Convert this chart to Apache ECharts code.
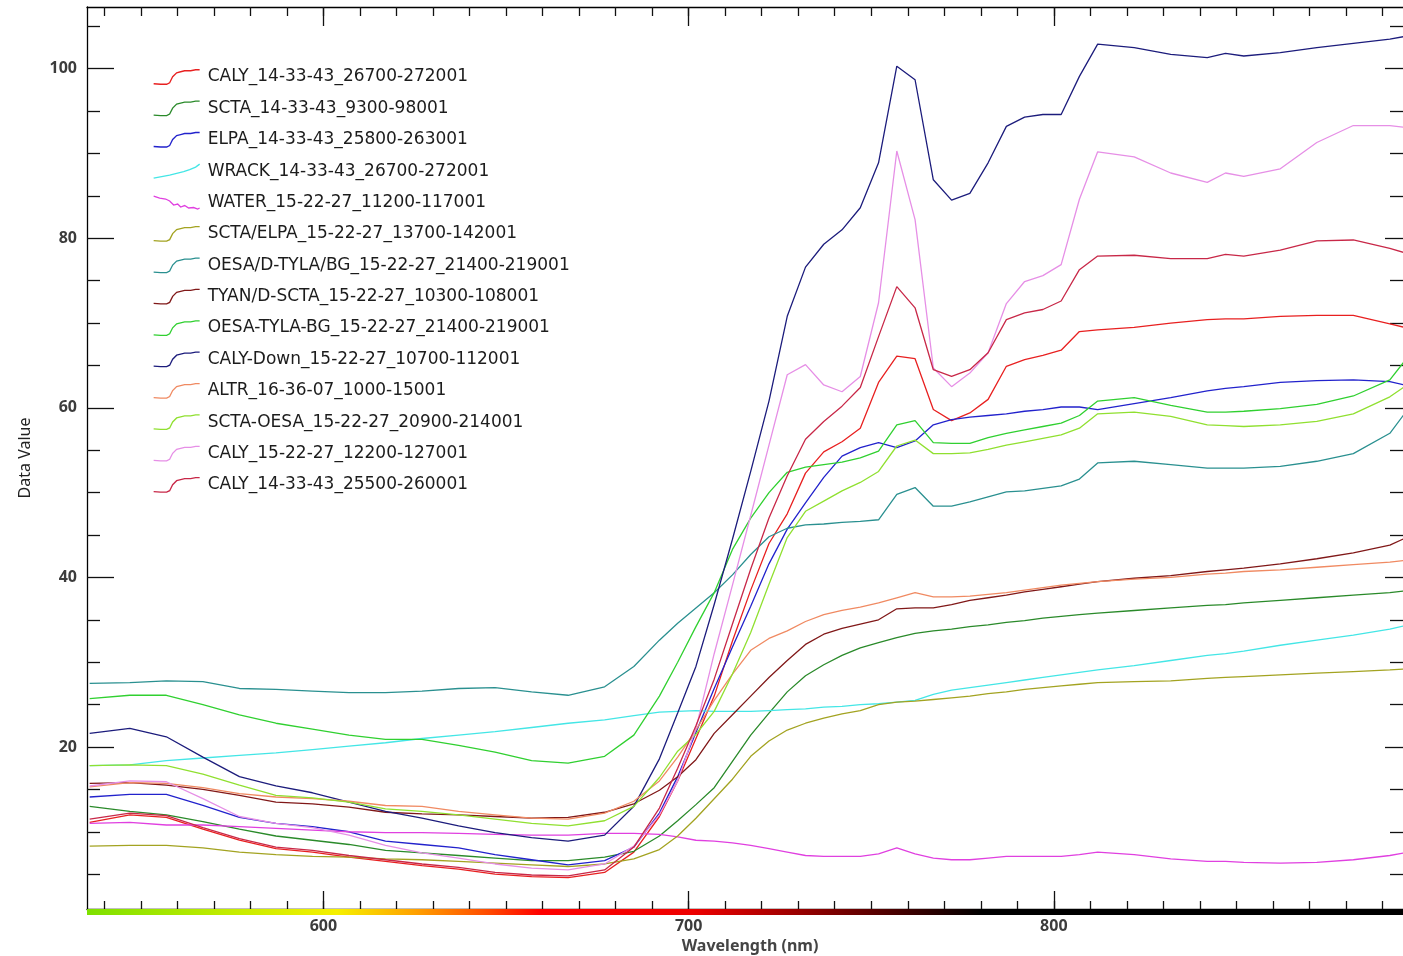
<!DOCTYPE html>
<html lang="en">
<head>
    <meta charset="UTF-8">
    <title>Spectral profiles</title>
    <script src="https://cdn.jsdelivr.net/npm/echarts@6/dist/echarts.min.js"></script>
    <style>
        html, body { margin: 0; padding: 0; background: #fff; }
        #spectra { width: 1403px; height: 956px; }
    </style>
</head>
<body>
<div id="spectra"></div>
<script type="text/javascript">
    // wavelengths (nm) shared by every profile
    var wavelengths = [536, 547, 557, 567, 577, 587, 597, 607, 617, 627, 637, 647, 657, 667, 677, 685, 692, 697, 702, 707,
        712, 717, 722, 727, 732, 737, 742, 747, 752, 757, 762, 767, 772, 777, 782, 787, 792, 797, 802, 807,
        812, 822, 832, 842, 847, 852, 862, 872, 882, 892, 896];

    var seriesNames = [
        'CALY_14-33-43_26700-272001',
        'SCTA_14-33-43_9300-98001',
        'ELPA_14-33-43_25800-263001',
        'WRACK_14-33-43_26700-272001',
        'WATER_15-22-27_11200-117001',
        'SCTA/ELPA_15-22-27_13700-142001',
        'OESA/D-TYLA/BG_15-22-27_21400-219001',
        'TYAN/D-SCTA_15-22-27_10300-108001',
        'OESA-TYLA-BG_15-22-27_21400-219001',
        'CALY-Down_15-22-27_10700-112001',
        'ALTR_16-36-07_1000-15001',
        'SCTA-OESA_15-22-27_20900-214001',
        'CALY_15-22-27_12200-127001',
        'CALY_14-33-43_25500-260001'
    ];
    var seriesColors = ['#e82020', '#2a8a2a', '#2222cc', '#44e6e6', '#e040e0', '#a3a321', '#2a9090',
        '#801818', '#30d030', '#1c1c7c', '#f08a62', '#90e030', '#e68fe6', '#c82848'];

    var calyA = [11.1, 12.0, 11.7, 10.3, 9.0, 8.0, 7.6, 7.0, 6.5, 6.0, 5.6, 5.0, 4.7, 4.6, 5.2, 7.6, 11.8, 16.0, 21.0, 26.0,
        32.5, 38.5, 44.0, 47.5, 52.3, 54.8, 56.0, 57.6, 63.0, 66.1, 65.8, 59.8, 58.5, 59.4, 61.0, 64.9, 65.7, 66.2, 66.8, 69.0,
        69.2, 69.5, 70.0, 70.4, 70.5, 70.5, 70.8, 70.9, 70.9, 69.9, 69.5];
    var scta = [13.0, 12.4, 12.0, 11.2, 10.3, 9.5, 9.0, 8.5, 7.8, 7.5, 7.2, 6.9, 6.6, 6.6, 7.0, 7.7, 9.5, 11.3, 13.2, 15.2,
        18.3, 21.4, 24.0, 26.5, 28.4, 29.7, 30.8, 31.7, 32.3, 32.9, 33.4, 33.7, 33.9, 34.2, 34.4, 34.7, 34.9, 35.2, 35.4, 35.6,
        35.8, 36.1, 36.4, 36.7, 36.8, 37.0, 37.3, 37.6, 37.9, 38.2, 38.4];
    var elpa = [14.1, 14.4, 14.4, 13.1, 11.7, 11.0, 10.6, 10.0, 8.9, 8.5, 8.1, 7.3, 6.7, 6.1, 6.6, 8.2, 12.2, 16.5, 21.7, 26.9,
        31.8, 36.6, 41.6, 45.7, 48.8, 51.8, 54.3, 55.3, 55.9, 55.3, 56.1, 58.0, 58.6, 58.9, 59.1, 59.3, 59.6, 59.8, 60.1, 60.1,
        59.8, 60.5, 61.2, 62.0, 62.3, 62.5, 63.0, 63.2, 63.3, 63.1, 62.7];
    var wrack = [17.8, 17.9, 18.4, 18.7, 19.0, 19.3, 19.7, 20.1, 20.5, 21.0, 21.4, 21.8, 22.3, 22.8, 23.2, 23.7, 24.1, 24.2, 24.3, 24.2,
        24.2, 24.2, 24.3, 24.4, 24.5, 24.7, 24.8, 25.0, 25.1, 25.3, 25.5, 26.2, 26.7, 27.0, 27.3, 27.6, 27.9, 28.2, 28.5, 28.8,
        29.1, 29.6, 30.2, 30.8, 31.0, 31.3, 32.0, 32.6, 33.2, 33.9, 34.3];
    var water = [11.0, 11.1, 10.8, 10.8, 10.6, 10.4, 10.2, 10.0, 9.9, 9.9, 9.8, 9.7, 9.6, 9.6, 9.8, 9.8, 9.7, 9.4, 9.0, 8.9,
        8.7, 8.4, 8.0, 7.6, 7.2, 7.1, 7.1, 7.1, 7.4, 8.1, 7.4, 6.9, 6.7, 6.7, 6.9, 7.1, 7.1, 7.1, 7.1, 7.3,
        7.6, 7.3, 6.8, 6.5, 6.5, 6.4, 6.3, 6.4, 6.7, 7.2, 7.5];
    var sctaElpa = [8.3, 8.4, 8.4, 8.1, 7.6, 7.3, 7.1, 7.0, 6.8, 6.7, 6.5, 6.3, 6.1, 5.9, 6.2, 6.8, 7.9, 9.5, 11.6, 13.9,
        16.2, 18.9, 20.7, 22.0, 22.8, 23.4, 23.9, 24.3, 25.0, 25.3, 25.4, 25.6, 25.8, 26.0, 26.3, 26.5, 26.8, 27.0, 27.2, 27.4,
        27.6, 27.7, 27.8, 28.1, 28.2, 28.3, 28.5, 28.7, 28.9, 29.1, 29.2];
    var oesaDTyla = [27.5, 27.6, 27.8, 27.7, 26.9, 26.8, 26.6, 26.4, 26.4, 26.6, 26.9, 27.0, 26.5, 26.1, 27.1, 29.5, 32.6, 34.6, 36.4, 38.2,
        40.3, 42.7, 44.8, 45.8, 46.2, 46.3, 46.5, 46.6, 46.8, 49.8, 50.6, 48.4, 48.4, 48.9, 49.5, 50.1, 50.2, 50.5, 50.8, 51.6,
        53.5, 53.7, 53.3, 52.9, 52.9, 52.9, 53.1, 53.7, 54.6, 57.0, 59.3];
    var tyan = [15.7, 15.8, 15.5, 15.0, 14.3, 13.5, 13.3, 12.9, 12.3, 12.1, 12.0, 11.8, 11.6, 11.7, 12.3, 13.3, 14.9, 16.5, 18.5, 21.6,
        23.8, 26.0, 28.2, 30.2, 32.1, 33.3, 34.0, 34.5, 35.0, 36.3, 36.4, 36.4, 36.8, 37.3, 37.6, 37.9, 38.3, 38.6, 38.9, 39.2,
        39.5, 39.9, 40.2, 40.7, 40.9, 41.1, 41.6, 42.2, 42.9, 43.8, 44.6];
    var oesaTyla = [25.7, 26.1, 26.1, 25.0, 23.8, 22.8, 22.1, 21.4, 20.9, 20.9, 20.2, 19.4, 18.4, 18.1, 18.9, 21.4, 26.0, 30.0, 34.2, 38.2,
        43.3, 47.0, 50.0, 52.4, 53.0, 53.3, 53.6, 54.1, 54.9, 58.0, 58.5, 55.9, 55.8, 55.8, 56.5, 57.0, 57.4, 57.8, 58.2, 59.1,
        60.8, 61.2, 60.3, 59.5, 59.5, 59.6, 59.9, 60.4, 61.4, 63.3, 65.5];
    var calyDown = [21.6, 22.2, 21.2, 18.8, 16.5, 15.4, 14.6, 13.5, 12.4, 11.6, 10.7, 9.9, 9.3, 8.9, 9.6, 13.0, 18.6, 24.0, 29.5, 36.8,
        44.5, 52.5, 60.8, 70.8, 76.6, 79.3, 81.0, 83.6, 88.9, 100.3, 98.7, 86.9, 84.5, 85.3, 88.9, 93.2, 94.3, 94.6, 94.6, 99.1,
        102.9, 102.5, 101.7, 101.3, 101.8, 101.5, 101.9, 102.5, 103.0, 103.5, 103.8];
    var altr = [15.3, 15.8, 15.7, 15.2, 14.5, 14.1, 13.9, 13.6, 13.1, 13.0, 12.4, 12.0, 11.6, 11.5, 12.2, 13.6, 16.0, 18.8, 22.0, 25.5,
        28.6, 31.4, 32.8, 33.7, 34.8, 35.6, 36.1, 36.5, 37.0, 37.6, 38.2, 37.7, 37.7, 37.8, 38.0, 38.2, 38.5, 38.8, 39.1, 39.3,
        39.5, 39.8, 40.0, 40.4, 40.5, 40.7, 40.9, 41.2, 41.5, 41.8, 42.0];
    var sctaOesa = [17.8, 17.9, 17.8, 16.8, 15.5, 14.3, 14.0, 13.5, 12.7, 12.4, 12.0, 11.5, 11.0, 10.7, 11.3, 13.0, 16.4, 19.5, 21.5, 24.2,
        28.6, 33.5, 39.2, 44.7, 47.8, 49.0, 50.2, 51.2, 52.5, 55.5, 56.2, 54.6, 54.6, 54.7, 55.1, 55.6, 56.0, 56.4, 56.8, 57.6,
        59.3, 59.5, 59.0, 58.0, 57.9, 57.8, 58.0, 58.4, 59.3, 61.3, 62.5];
    var calyB = [15.4, 16.0, 15.9, 13.9, 11.8, 11.0, 10.5, 9.6, 8.4, 7.5, 6.9, 6.2, 5.7, 5.5, 6.2, 8.3, 12.0, 16.0, 22.2, 31.0,
        39.1, 47.3, 55.6, 63.9, 65.1, 62.7, 61.9, 63.7, 72.4, 90.3, 82.2, 64.7, 62.5, 64.1, 66.5, 72.3, 74.9, 75.6, 76.9, 84.6,
        90.2, 89.6, 87.7, 86.6, 87.7, 87.3, 88.2, 91.3, 93.3, 93.3, 93.1];
    var calyC = [11.5, 12.2, 11.9, 10.5, 9.2, 8.2, 7.8, 7.2, 6.7, 6.2, 5.8, 5.2, 4.9, 4.8, 5.5, 8.2, 12.8, 17.5, 22.5, 28.0,
        34.5, 41.0, 47.0, 52.0, 56.3, 58.4, 60.2, 62.4, 68.4, 74.3, 71.8, 64.5, 63.7, 64.5, 66.5, 70.4, 71.2, 71.6, 72.6, 76.3,
        77.9, 78.0, 77.6, 77.6, 78.1, 77.9, 78.6, 79.7, 79.8, 78.8, 78.3];

    var profiles = [calyA, scta, elpa, wrack, water, sctaElpa, oesaDTyla, tyan, oesaTyla, calyDown, altr, sctaOesa, calyB, calyC];

    // axis ticks
    var xMajorTicks = [600, 700, 800];
    var xMinorTicks = [];
    for (var t = 540; t <= 890; t += 10) xMinorTicks.push(t);
    var yMajorTicks = [20, 40, 60, 80, 100];
    var yMinorTicks = [5, 10, 15, 25, 30, 35, 45, 50, 55, 65, 70, 75, 85, 90, 95, 105];

    // little spectrum sketches used as legend symbols
    var iconRise = 'path://M0,17 L7,17.5 L13,17.5 L16,16 L19,10 L23,6 L27,5 L31,4 L37,4 L42,3 L46,3';
    var iconLine = 'path://M0,17 L8,15.5 L16,14 L24,12 L30,10.5 L36,8.5 L42,6 L46,3';
    var iconWater = 'path://M0,3 L6,5 L12,6 L16,8 L20,12 L24,11 L27,14 L31,12.5 L35,15 L40,14.5 L44,16 L46,15';

    var chart = echarts.init(document.getElementById('spectra'));
    var font = 'Noto Sans';

    var series = [];
    var legendData = [];
    for (var i = 0; i < seriesNames.length; i++) {
        var pts = [];
        for (var j = 0; j < wavelengths.length; j++) pts.push([wavelengths[j], profiles[i][j]]);
        series.push({
            name: seriesNames[i],
            type: 'line',
            data: pts,
            symbol: 'none',
            color: seriesColors[i],
            lineStyle: { width: 1.3, color: seriesColors[i] },
            xAxisIndex: 0,
            yAxisIndex: 0
        });
        var ic = iconRise;
        if (i === 3) ic = iconLine;
        if (i === 4) ic = iconWater;
        legendData.push({
            name: seriesNames[i],
            icon: ic,
            itemStyle: { color: 'transparent', borderColor: seriesColors[i], borderWidth: 1.3 }
        });
    }

    function xAxisDef(pos, ticks, len, labels, showLine) {
        return {
            type: 'value', position: pos, min: 535.27, max: 895.6,
            axisLine: { show: showLine, lineStyle: { color: '#000', width: 1.3 } },
            axisTick: { show: true, inside: true, length: len, customValues: ticks, lineStyle: { color: '#111', width: 1.3 } },
            axisLabel: labels ? {
                show: true, customValues: labels, margin: 9, fontSize: 16, fontWeight: 'bold',
                color: '#3c3c3c', fontFamily: font
            } : { show: false },
            splitLine: { show: false }
        };
    }
    function yAxisDef(pos, ticks, len, labels, showLine) {
        return {
            type: 'value', position: pos, min: 0.89, max: 107.28,
            axisLine: { show: showLine, lineStyle: { color: '#000', width: 1.3 } },
            axisTick: { show: true, inside: true, length: len, customValues: ticks, lineStyle: { color: '#111', width: 1.3 } },
            axisLabel: labels ? {
                show: true, customValues: labels, margin: 10, fontSize: 16, fontWeight: 'bold',
                color: '#3c3c3c', fontFamily: font
            } : { show: false },
            splitLine: { show: false }
        };
    }

    var xBottom = xAxisDef('bottom', xMinorTicks, 8, xMajorTicks, true);
    xBottom.name = 'Wavelength (nm)';
    xBottom.nameLocation = 'middle';
    xBottom.nameGap = 27;
    xBottom.nameTextStyle = { fontSize: 16, fontWeight: 'bold', color: '#444', fontFamily: font, padding: [0, 0, 0, 10] };

    var yLeft = yAxisDef('left', yMinorTicks, 13, yMajorTicks, true);
    yLeft.name = 'Data Value';
    yLeft.nameLocation = 'middle';
    yLeft.nameGap = 54;
    yLeft.nameTextStyle = { fontSize: 16, color: '#222', fontFamily: font };

    var option = {
        animation: false,
        backgroundColor: '#fff',
        grid: { left: 87, right: 0, top: 7, bottom: 47, containLabel: false, outerBoundsMode: 'none' },
        legend: {
            orient: 'vertical',
            left: 153,
            top: 67,
            padding: 0,
            itemWidth: 46,
            itemHeight: 20,
            itemGap: 11.38,
            selectedMode: false,
            itemStyle: { color: 'transparent', borderWidth: 1.3 },
            textStyle: {
                fontSize: 17, lineHeight: 20, color: '#1c1c1c', fontFamily: 'DejaVu Sans',
                padding: [0, 0, 0, 3]
            },
            data: legendData
        },
        xAxis: [
            xBottom,
            xAxisDef('bottom', xMajorTicks, 18, null, false),
            xAxisDef('top', xMinorTicks, 9, null, true),
            xAxisDef('top', xMajorTicks, 19, null, false)
        ],
        yAxis: [
            yLeft,
            yAxisDef('left', yMajorTicks, 27, null, false),
            yAxisDef('right', yMinorTicks, 13, null, false),
            yAxisDef('right', yMajorTicks, 18, null, false)
        ],
        // colour bar under the wavelength axis
        graphic: [{
            type: 'rect',
            left: 87, top: 909, z: 100,
            shape: { width: 1316, height: 6 },
            style: {
                fill: new echarts.graphic.LinearGradient(0, 0, 1, 0, [
                    { offset: 0, color: '#7ee000' },
                    { offset: 0.11, color: '#c4ec00' },
                    { offset: 0.19, color: '#f6f000' },
                    { offset: 0.25, color: '#ffa000' },
                    { offset: 0.305, color: '#ff4a00' },
                    { offset: 0.345, color: '#ff0000' },
                    { offset: 0.46, color: '#ee0000' },
                    { offset: 0.54, color: '#9a0000' },
                    { offset: 0.62, color: '#420000' },
                    { offset: 0.68, color: '#000000' },
                    { offset: 1, color: '#000000' }
                ])
            }
        }],
        series: series
    };
    chart.setOption(option);
</script>
</body>
</html>
